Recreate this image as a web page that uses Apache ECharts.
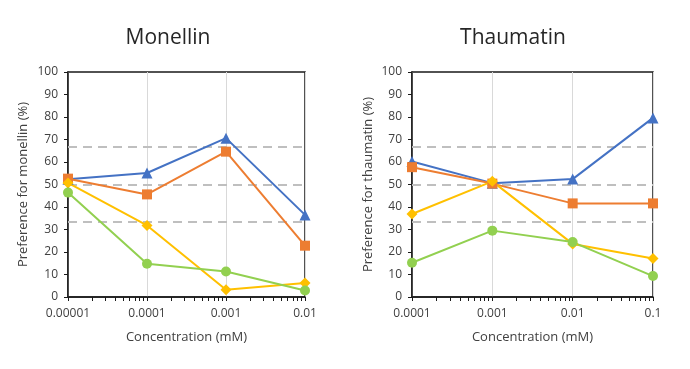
<!DOCTYPE html>
<html>
<head>
<meta charset="utf-8">
<script src="https://cdn.jsdelivr.net/npm/echarts@6/dist/echarts.min.js"></script>
<style>html,body{margin:0;padding:0;background:#fff}#c{width:690px;height:369px}</style>
</head>
<body>
<div id="c"></div>
<script>
// ---- data ----
const monConc = [0.00001, 0.0001, 0.001, 0.01];
const monTickLabels = ['0.00001', '0.0001', '0.001', '0.01'];
const monBlue = [52.3, 55.1, 70.6, 36.5];
const monOrange = [52.6, 45.6, 64.6, 22.8];
const monYellow = [50.7, 31.8, 3.2, 6.2];
const monGreen = [46.4, 14.8, 11.3, 2.9];

const thaConc = [0.0001, 0.001, 0.01, 0.1];
const thaTickLabels = ['0.0001', '0.001', '0.01', '0.1'];
const thaBlue = [60.2, 50.6, 52.4, 79.6];
const thaOrange = [57.7, 50.4, 41.6, 41.6];
const thaYellow = [36.9, 51.4, 23.6, 17.1];
const thaGreen = [15.2, 29.5, 24.4, 9.3];

const refLines = [33.3, 50, 66.7];
const yTicks = [0, 10, 20, 30, 40, 50, 60, 70, 80, 90, 100];

const titles = ['Monellin', 'Thaumatin'];
const yNames = ['Preference for monellin (%)', 'Preference for thaumatin (%)'];
const xName = 'Concentration (mM)';

// ---- styling ----
const FONT = '"Open Sans", "Noto Sans", sans-serif';
const TXT = '#404040';
const colors = { blue: '#4472C4', orange: '#ED7D31', yellow: '#FFC000', green: '#92D050' };

function minorTickExps(conc) {
  const lo = Math.round(Math.log10(conc[0]));
  const hi = Math.round(Math.log10(conc[conc.length - 1]));
  const out = [];
  for (let e = lo; e <= hi; e++) {
    for (let k = 1; k <= 9; k++) {
      if (e === hi && k > 1) break;
      out.push(e + Math.log10(k));
    }
  }
  return out;
}

function labelFor(conc, labels) {
  return function (v) {
    const lv = Math.log10(v);
    for (let i = 0; i < conc.length; i++) {
      if (Math.abs(Math.log10(conc[i]) - lv) < 1e-6) return labels[i];
    }
    return '';
  };
}

const grids = [
  { left: 68, top: 72, width: 237, height: 225 },
  { left: 412, top: 72, width: 241, height: 225 }
];
const concs = [monConc, thaConc];
const tickLabels = [monTickLabels, thaTickLabels];

const xAxis = [];
const yAxis = [];
const grid = [];
grids.forEach((g, i) => {
  grid.push(Object.assign({ show: true, borderColor: '#1a1a1a', borderWidth: 1.5, backgroundColor: 'transparent', containLabel: false }, g));
  // main log axis
  xAxis.push({
    type: 'log', logBase: 10, gridIndex: i,
    min: concs[i][0], max: concs[i][concs[i].length - 1],
    name: xName, nameLocation: 'middle', nameGap: 34,
    nameTextStyle: { fontFamily: FONT, fontSize: 13, color: TXT },
    axisLine: { show: true, lineStyle: { color: '#1a1a1a', width: 1.5 } },
    axisTick: { show: false },
    axisLabel: { fontFamily: FONT, fontSize: 12, color: TXT, margin: 11, formatter: labelFor(concs[i], tickLabels[i]), showMinLabel: true, showMaxLabel: true },
    splitLine: { show: true, lineStyle: { color: '#D9D9D9', width: 1 } },
    minorTick: { show: false }
  });
  // tick-only decoration axis in log10 space for minor ticks
  xAxis.push({
    type: 'value', gridIndex: i,
    min: Math.log10(concs[i][0]), max: Math.log10(concs[i][concs[i].length - 1]),
    position: 'bottom',
    axisLine: { show: false },
    axisTick: { show: true, inside: false, length: 4, customValues: minorTickExps(concs[i]), lineStyle: { color: '#1a1a1a', width: 1 } },
    axisLabel: { show: false },
    splitLine: { show: false }
  });
  yAxis.push({
    type: 'value', gridIndex: i, min: 0, max: 100, interval: 10,
    name: yNames[i], nameLocation: 'middle', nameGap: i === 0 ? 38 : 37,
    nameTextStyle: { fontFamily: FONT, fontSize: 13, color: TXT },
    axisLine: { show: true, lineStyle: { color: '#1a1a1a', width: 1.5 } },
    axisTick: { show: true, inside: false, length: 4, lineStyle: { color: '#1a1a1a' } },
    axisLabel: { fontFamily: FONT, fontSize: 12, color: TXT, margin: 10 },
    splitLine: { show: false }
  });
});

function mkSeries(gi, conc, vals, color, symbol, size, withRef) {
  const s = {
    type: 'line', xAxisIndex: gi * 2, yAxisIndex: gi,
    data: conc.map((c, k) => [c, vals[k]]),
    symbol: symbol, symbolSize: size,
    lineStyle: { color: color, width: 2 },
    itemStyle: { color: color },
    emphasis: { disabled: true },
    animation: false,
    z: 3
  };
  if (withRef) {
    s.markLine = {
      silent: true, symbol: ['none', 'none'], label: { show: false },
      lineStyle: { color: '#BFBFBF', type: [9, 6], width: 2 },
      data: refLines.map(v => ({ yAxis: v })),
      animation: false,
      z: 1
    };
  }
  return s;
}

const series = [
  mkSeries(0, monConc, monBlue, colors.blue, 'triangle', 11, true),
  mkSeries(0, monConc, monOrange, colors.orange, 'rect', 10, false),
  mkSeries(0, monConc, monYellow, colors.yellow, 'diamond', 11, false),
  mkSeries(0, monConc, monGreen, colors.green, 'circle', 10, false),
  mkSeries(1, thaConc, thaBlue, colors.blue, 'triangle', 11, true),
  mkSeries(1, thaConc, thaOrange, colors.orange, 'rect', 10, false),
  mkSeries(1, thaConc, thaYellow, colors.yellow, 'diamond', 11, false),
  mkSeries(1, thaConc, thaGreen, colors.green, 'circle', 10, false)
];

const chart = echarts.init(document.getElementById('c'), null, { renderer: 'canvas' });
chart.setOption({
  animation: false,
  backgroundColor: '#fff',
  title: [
    { text: titles[0], left: 163, top: 23, textAlign: 'center', textStyle: { fontFamily: FONT, fontSize: 21, fontWeight: 'normal', color: '#262626' } },
    { text: titles[1], left: 508, top: 23, textAlign: 'center', textStyle: { fontFamily: FONT, fontSize: 21, fontWeight: 'normal', color: '#262626' } }
  ],
  grid: grid,
  xAxis: xAxis,
  yAxis: yAxis,
  series: series
});
</script>
</body>
</html>
